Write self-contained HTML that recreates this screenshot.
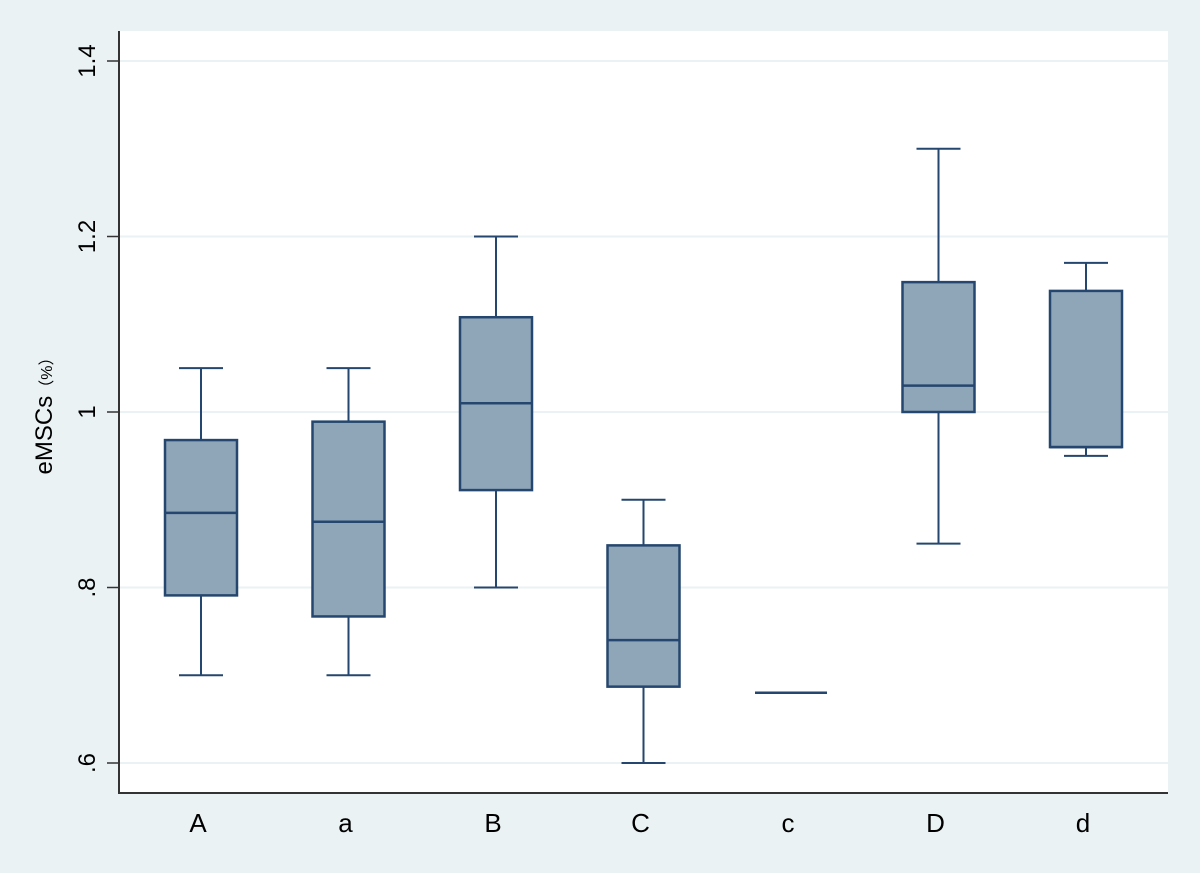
<!DOCTYPE html>
<html><head><meta charset="utf-8"><style>
body{margin:0;background:#eaf2f3;}
svg{display:block;font-family:"Liberation Sans","Noto Sans CJK SC",sans-serif;}
</style></head><body>
<svg id="chart" width="1200" height="873" xmlns="http://www.w3.org/2000/svg">
<rect x="0" y="0" width="1200" height="873" fill="#eaf2f3"/>
<rect x="119" y="31" width="1049" height="762" fill="#ffffff"/>
<g id="grid"></g><g id="boxes"></g><g id="axes"></g>
</svg>
<script>
const categories=["A","a","B","C","c","D","d"];
const mins=[0.70,0.70,0.80,0.60,0.68,0.85,0.95];
const q1s=[0.791,0.767,0.911,0.687,0.68,1.0,0.96];
const medians=[0.885,0.875,1.01,0.74,0.68,1.03,0.96];
const q3s=[0.968,0.989,1.108,0.848,0.68,1.148,1.138];
const maxs=[1.05,1.05,1.20,0.90,0.68,1.30,1.17];
const yTicks=[0.6,0.8,1.0,1.2,1.4];
const yTickLabels=[".6",".8","1","1.2","1.4"];
const NS="http://www.w3.org/2000/svg";
const y=v=>763-(v-0.6)*877.5;
const x=i=>201+i*147.5;
function mk(t,a,p){const e=document.createElementNS(NS,t);for(const k in a)e.setAttribute(k,a[k]);p.appendChild(e);return e;}
const grid=document.getElementById('grid'),boxes=document.getElementById('boxes'),axes=document.getElementById('axes');
yTicks.forEach((v,i)=>{
 const g=mk('line',{x1:119,x2:1168,y1:y(v),y2:y(v),stroke:'#eaf2f3','stroke-width':2},grid);
 
 
 const t=mk('line',{x1:107,x2:119,y1:y(v),y2:y(v),stroke:'#333','stroke-width':1.5},axes);
 
 
 const tx=mk('text',{x:0,y:0,transform:`translate(95,${y(v)}) rotate(-90)`,'text-anchor':'middle','font-size':24,fill:'#000'},axes);
 tx.textContent=yTickLabels[i];
 
 
});
const col='#25466e',fillc='#8fa5b8',hw=36,cw=22;
categories.forEach((c,i)=>{
 const cx=x(i);
 const g=mk('g',{},boxes);
 
 
 mk('line',{x1:cx,x2:cx,y1:y(maxs[i]),y2:y(q3s[i]),stroke:col,'stroke-width':2},g);
 mk('line',{x1:cx,x2:cx,y1:y(q1s[i]),y2:y(mins[i]),stroke:col,'stroke-width':2},g);
 mk('line',{x1:cx-cw,x2:cx+cw,y1:y(maxs[i]),y2:y(maxs[i]),stroke:col,'stroke-width':2},g);
 mk('line',{x1:cx-cw,x2:cx+cw,y1:y(mins[i]),y2:y(mins[i]),stroke:col,'stroke-width':2},g);
 mk('rect',{x:cx-hw,y:y(q3s[i]),width:hw*2,height:Math.max(0,y(q1s[i])-y(q3s[i])),fill:fillc,stroke:col,'stroke-width':2.5},g);
 mk('line',{x1:cx-hw,x2:cx+hw,y1:y(medians[i]),y2:y(medians[i]),stroke:col,'stroke-width':2.5},g);
 const t=mk('text',{x:cx-3,y:832,'text-anchor':'middle','font-size':26,fill:'#000'},axes);
 t.textContent=c;
 
 
});
const ya=mk('line',{x1:119,x2:119,y1:31,y2:793,stroke:'#333','stroke-width':2},axes);


const xa=mk('line',{x1:118,x2:1168,y1:793,y2:793,stroke:'#333','stroke-width':2},axes);


const yt=mk('text',{x:0,y:0,transform:'translate(52,412) rotate(-90)','text-anchor':'middle','font-size':24,fill:'#000'},axes);
yt.innerHTML='eMSCs<tspan font-size="16">（%）</tspan>';


</script>
</body></html>
